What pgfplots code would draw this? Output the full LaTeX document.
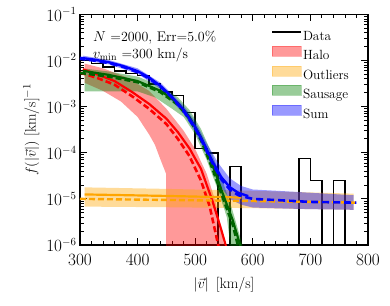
\documentclass[border=0pt]{standalone}
\usepackage{pgfplots}
\pgfplotsset{compat=1.18}
\definecolor{mplorange}{HTML}{FFA500}
\definecolor{mplgreen}{HTML}{008000}
\definecolor{dkgreen}{HTML}{006400}
\pgfplotsset{
  patchleg/.style={legend image code/.code={\draw[##1] (0bp,-0.5bp) rectangle (29bp,9.5bp);}},
  lineleg/.style={legend image code/.code={\draw[##1] (0bp,4.5bp) -- (29bp,4.5bp);}},
}
\begin{document}
\begin{tikzpicture}
\begin{axis}[
  name=ax,
  scale only axis, width=288bp, height=230.5bp,
  xmin=300, xmax=800, ymode=log, ymin=1e-6, ymax=1e-1,
  xtick={300,400,500,600,700,800}, minor x tick num=4,
  ytick={1e-6,1e-5,1e-4,1e-3,1e-2,1e-1},
  tick align=inside, tick pos=both,
  major tick length=7bp, minor tick length=4bp,
  every tick/.style={black, line width=0.9pt},
  axis line style={line width=1.1pt},
  tick label style={font=\fontsize{16}{16}\selectfont},
  xticklabel style={yshift=-6bp},
  xlabel={$|\vec{v}|$\, [km/s]}, ylabel={$f(|\vec{v}|)$ [km/s]$^{-1}$},
  xlabel style={yshift=-5bp},
  label style={font=\fontsize{15}{15}\selectfont},
  legend cell align=left,
  legend style={draw=none, fill=none, at={(0.948,0.942)}, anchor=north east,
    font=\fontsize{13.4}{13.4}\selectfont, row sep=3.4bp,
    nodes={inner sep=1bp}},
]
\addlegendimage{lineleg, black, line width=2pt}
\addlegendentry{Data}
\addlegendimage{patchleg, fill=red, fill opacity=0.4, draw=red, draw opacity=0.3}
\addlegendentry{Halo}
\addlegendimage{patchleg, fill=mplorange, fill opacity=0.4, draw=mplorange, draw opacity=0.3}
\addlegendentry{Outliers}
\addlegendimage{patchleg, fill=mplgreen, fill opacity=0.4, draw=mplgreen, draw opacity=0.3}
\addlegendentry{Sausage}
\addlegendimage{patchleg, fill=blue, fill opacity=0.4, draw=blue, draw opacity=0.3}
\addlegendentry{Sum}

% histogram (data)
\addplot[black, line width=1.6pt, const plot, forget plot] coordinates {
(300,1.0e-2)(320,8.6e-3)(340,7.2e-3)(360,6.0e-3)(380,5.2e-3)(400,4.8e-3)
(420,3.1e-3)(440,2.1e-3)(460,1.75e-3)(480,7.5e-4)(500,1.25e-4)(520,1.0e-4)
(540,1e-9)(560,5e-5)(580,1e-9)(680,7.5e-5)(700,2.5e-5)(720,1e-9)(740,2.5e-5)(760,1e-9)};

% bands
\addplot[fill=red, fill opacity=0.4, draw=none, forget plot] coordinates {
(308,8.6e-3)(340,6.8e-3)(380,4.4e-3)(420,2.2e-3)(450,9e-4)(480,3e-4)(500,1.2e-4)
(520,3.5e-5)(535,9e-6)(548,1.5e-6)(556,3e-7)
(449.5,3e-7)(449.5,3.5e-5)(440,7e-5)(430,1.5e-4)(420,2.5e-4)(400,6e-4)(371,1.3e-3)(340,2.2e-3)(308,3.3e-3)} -- cycle;
\addplot[fill=mplorange, fill opacity=0.4, draw=none, forget plot] coordinates {
(308,1.78e-5)(450,1.65e-5)(600,1.5e-5)(775,1.3e-5)
(775,5.8e-6)(600,6.3e-6)(450,6.6e-6)(308,6.8e-6)} -- cycle;
\addplot[fill=mplgreen, fill opacity=0.4, draw=none, forget plot] coordinates {
(308,6.7e-3)(350,5.8e-3)(400,4.5e-3)(440,2.8e-3)(470,1.6e-3)(490,8.5e-4)(510,3.3e-4)
(530,9e-5)(550,2e-5)(565,5.5e-6)(582,1e-6)(584,3e-7)
(566,3e-7)(555,4e-6)(540,1.5e-5)(520,7e-5)(500,2.5e-4)(480,6e-4)(460,9e-4)(430,1.6e-3)
(400,2.15e-3)(308,2.15e-3)} -- cycle;
\addplot[fill=blue, fill opacity=0.4, draw=none, forget plot] coordinates {
(305,1.28e-2)(350,1.03e-2)(400,6.8e-3)(440,3.3e-3)(480,1.05e-3)(500,4.8e-4)(520,1.6e-4)
(540,6e-5)(560,2.8e-5)(580,1.9e-5)(600,1.6e-5)(650,1.48e-5)(700,1.36e-5)(775,1.2e-5)
(775,5.8e-6)(700,6e-6)(650,6.2e-6)(600,6.5e-6)(580,7.5e-6)(560,1.0e-5)(545,1.8e-5)
(530,4.5e-5)(515,1.2e-4)(500,2.8e-4)(480,7e-4)(440,2.4e-3)(400,5.2e-3)(350,8.3e-3)(305,1.02e-2)} -- cycle;

% halo lines
\addplot[red, line width=2.2pt, forget plot] coordinates {
(305,6.5e-3)(330,5.0e-3)(360,3.6e-3)(390,2.1e-3)(420,1.15e-3)(450,5.5e-4)(470,2.8e-4)
(490,1.25e-4)(510,4.5e-5)(530,9e-6)(545,2.2e-6)(555,8e-7)};
\addplot[red, line width=2.6pt, dash pattern=on 6bp off 3bp, forget plot] coordinates {
(300,5.5e-3)(330,4.2e-3)(360,3.0e-3)(390,1.7e-3)(420,9e-4)(450,4.2e-4)(470,2.0e-4)
(490,8.5e-5)(510,2.5e-5)(525,7e-6)(540,1e-6)(545,5e-7)};
% outlier lines
\addplot[mplorange, line width=2.2pt, forget plot] coordinates {
(308,1.25e-5)(450,1.16e-5)(580,1.07e-5)};
\addplot[mplorange, line width=2.4pt, dash pattern=on 6bp off 3bp, forget plot] coordinates {
(300,1.0e-5)(450,9.5e-6)(600,9.0e-6)(700,8.6e-6)(780,8.3e-6)};
% sausage lines
\addplot[dkgreen, line width=2.2pt, forget plot] coordinates {
(305,6.0e-3)(350,4.9e-3)(400,3.6e-3)(440,2.2e-3)(470,1.2e-3)(490,6e-4)(510,2.2e-4)
(530,5.5e-5)(550,1.1e-5)(565,3.5e-6)(578,1e-6)(580,7e-7)};
\addplot[dkgreen, line width=2.6pt, dash pattern=on 6bp off 3bp, forget plot] coordinates {
(300,5.4e-3)(350,4.5e-3)(400,3.4e-3)(440,2.05e-3)(470,1.1e-3)(490,5.5e-4)(510,1.9e-4)
(530,4.5e-5)(550,9e-6)(565,2.8e-6)(574,1e-6)(576,7e-7)};
% sum lines
\addplot[blue, line width=2.4pt, forget plot] coordinates {
(300,1.15e-2)(325,1.05e-2)(350,9.2e-3)(375,7.6e-3)(400,5.9e-3)(420,4.3e-3)(440,2.8e-3)
(460,1.6e-3)(480,8.5e-4)(500,3.6e-4)(515,1.6e-4)(530,6.5e-5)(545,3e-5)(560,1.8e-5)
(575,1.35e-5)(592,1.15e-5)};
\addplot[blue, line width=2.6pt, dash pattern=on 7bp off 4bp, dash phase=2bp, forget plot] coordinates {
(300,1.1e-2)(325,1.0e-2)(350,8.8e-3)(375,7.3e-3)(400,5.6e-3)(420,4.1e-3)(440,2.7e-3)
(460,1.55e-3)(480,8e-4)(500,3.4e-4)(515,1.5e-4)(530,6e-5)(545,2.7e-5)(560,1.6e-5)
(575,1.2e-5)(600,1.0e-5)(650,9.3e-6)(700,8.6e-6)(750,8.4e-6)(780,8.3e-6)};

\node[anchor=west, font=\fontsize{14}{14}\selectfont, inner sep=0pt] at (rel axis cs:0.045,0.9) {$N$ =2000, Err=5.0\%};
\node[anchor=west, font=\fontsize{14}{14}\selectfont, inner sep=0pt] at (rel axis cs:0.045,0.825) {$v_{\rm min}$ =300 km/s};
\end{axis}
\path (ax.south west) ++(-80bp,-61bp) rectangle ++(390bp,306bp);
\end{tikzpicture}
\end{document}
